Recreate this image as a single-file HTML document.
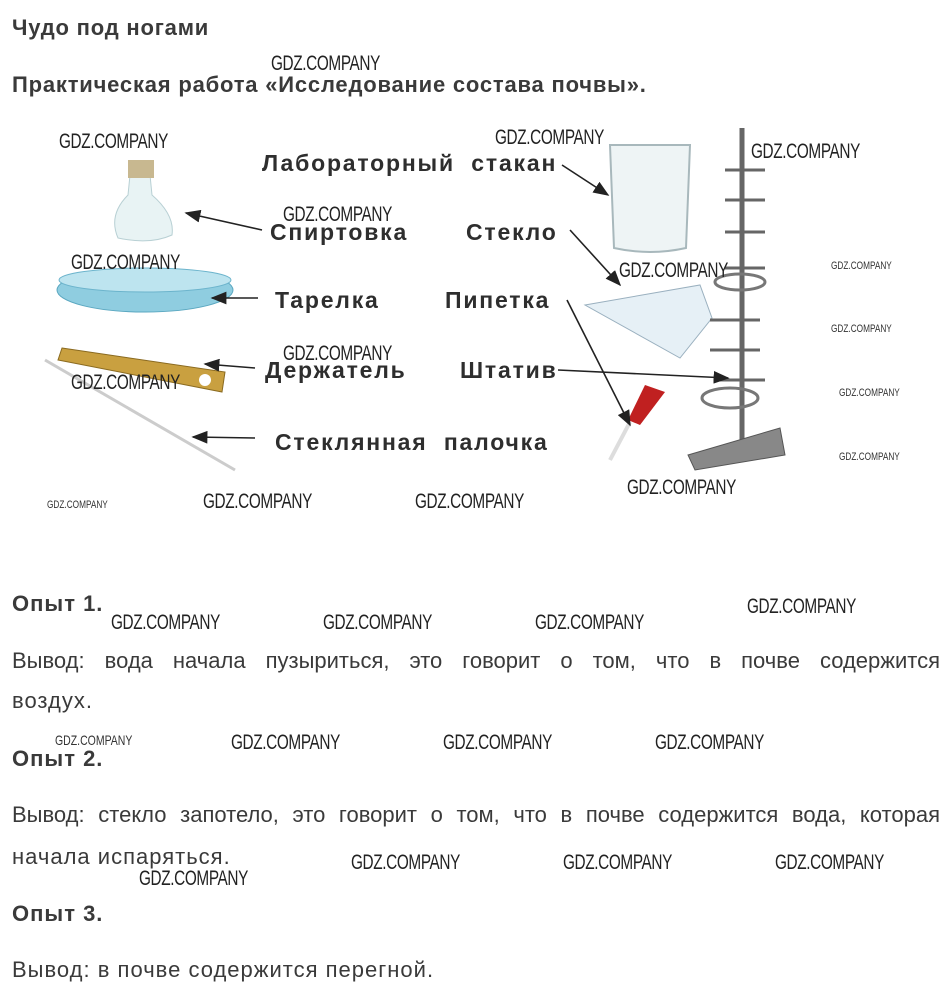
<!DOCTYPE html>
<html><head><meta charset="utf-8">
<style>
body{margin:0;width:949px;height:1000px;background:#fff;position:relative;overflow:hidden;font-family:"Liberation Sans",sans-serif;color:#333}
.a{position:absolute;white-space:nowrap}
.b{font-weight:bold}
.t{font-size:22px;color:#3a3a3a;letter-spacing:1px}
.lab{font-size:23px;font-weight:bold;color:#2e2e2e;letter-spacing:1.8px}
.w{position:absolute;font-family:"Liberation Sans Narrow","Liberation Sans",sans-serif;font-size:21px;color:#222;transform:scaleX(0.73);transform-origin:left top;white-space:nowrap;letter-spacing:-0.5px}
.ws{position:absolute;font-family:"Liberation Sans Narrow","Liberation Sans",sans-serif;font-size:11px;color:#333;transform:scaleX(0.75);transform-origin:left top;white-space:nowrap}
.j{position:absolute;left:12px;width:928px;font-size:22px;color:#3a3a3a;text-align:justify;text-align-last:justify;white-space:nowrap}
</style></head><body>
<div class="a b t" style="left:12px;top:15px;letter-spacing:0.8px">Чудо под ногами</div>
<div class="a b t" style="left:12px;top:72px;letter-spacing:0.8px">Практическая работа «Исследование состава почвы».</div>

<svg class="a" style="left:0;top:110px" width="949" height="390" viewBox="0 110 949 390">
<defs><marker id="ar" markerWidth="10" markerHeight="8" refX="9" refY="4" orient="auto"><path d="M0,0L10,4L0,8z" fill="#222"/></marker></defs>
<path d="M130,175 L150,175 L152,195 Q175,215 172,235 Q150,245 118,238 Q108,215 128,195z" fill="#e8f3f4" stroke="#b8d0d4"/>
<rect x="128" y="160" width="26" height="18" fill="#c8b890"/>
<ellipse cx="145" cy="290" rx="88" ry="22" fill="#8fcde0" stroke="#5aa7c0"/>
<ellipse cx="145" cy="280" rx="86" ry="12" fill="#bde4ef" stroke="#6cb4cc"/>
<path d="M62,348 L225,372 L222,392 L58,360z" fill="#c9a040" stroke="#8a6a20"/>
<circle cx="205" cy="380" r="6" fill="#fff"/>
<line x1="45" y1="360" x2="235" y2="470" stroke="#ccc" stroke-width="3"/>
<path d="M610,145 L690,145 L686,248 Q650,256 614,248z" fill="#eef4f5" stroke="#a8b8bc" stroke-width="2"/>
<path d="M585,305 L700,285 L712,318 L680,358z" fill="#e6f0f6" stroke="#9ab0bf"/>
<path d="M645,385 L665,392 L640,425 L628,420z" fill="#c02020"/>
<line x1="630" y1="422" x2="610" y2="460" stroke="#ddd" stroke-width="4"/>
<line x1="742" y1="128" x2="742" y2="440" stroke="#666" stroke-width="5"/>
<path d="M688,455 L780,428 L785,455 L695,470z" fill="#888" stroke="#555"/>
<ellipse cx="730" cy="398" rx="28" ry="10" fill="none" stroke="#777" stroke-width="3"/>
<ellipse cx="740" cy="282" rx="25" ry="8" fill="none" stroke="#777" stroke-width="3"/>
<g stroke="#666" stroke-width="3" fill="none">
<path d="M725,170h40"/><path d="M725,200h40"/><path d="M725,232h40"/><path d="M725,268h40"/><path d="M710,320h50"/><path d="M710,350h50"/><path d="M720,380h45"/>
</g>
<g stroke="#222" stroke-width="1.6" marker-end="url(#ar)">
<line x1="262" y1="230" x2="186" y2="213"/>
<line x1="258" y1="298" x2="212" y2="298"/>
<line x1="255" y1="368" x2="205" y2="364"/>
<line x1="255" y1="438" x2="193" y2="437"/>
<line x1="562" y1="165" x2="608" y2="195"/>
<line x1="570" y1="230" x2="620" y2="285"/>
<line x1="567" y1="300" x2="630" y2="425"/>
<line x1="558" y1="370" x2="728" y2="378"/>
</g>
</svg>

<div class="a lab" style="left:262px;top:150px">Лабораторный&nbsp; стакан</div>
<div class="a lab" style="left:270px;top:219px">Спиртовка</div>
<div class="a lab" style="left:466px;top:219px">Стекло</div>
<div class="a lab" style="left:275px;top:287px">Тарелка</div>
<div class="a lab" style="left:445px;top:287px">Пипетка</div>
<div class="a lab" style="left:265px;top:357px">Держатель</div>
<div class="a lab" style="left:460px;top:357px">Штатив</div>
<div class="a lab" style="left:275px;top:429px">Стеклянная&nbsp; палочка</div>

<div class="a b t" style="left:12px;top:591px">Опыт 1.</div>
<div class="j" style="top:648px">Вывод: вода начала пузыриться, это говорит о том, что в почве содержится</div>
<div class="a t" style="left:12px;top:688px">воздух.</div>
<div class="a b t" style="left:12px;top:746px">Опыт 2.</div>
<div class="j" style="top:802px">Вывод: стекло запотело, это говорит о том, что в почве содержится вода, которая</div>
<div class="a t" style="left:12px;top:844px">начала испаряться.</div>
<div class="a b t" style="left:12px;top:901px">Опыт 3.</div>
<div class="a t" style="left:12px;top:957px">Вывод: в почве содержится перегной.</div>

<div class="w" style="left:271px;top:52px">GDZ.COMPANY</div>
<div class="w" style="left:59px;top:130px">GDZ.COMPANY</div>
<div class="w" style="left:495px;top:126px">GDZ.COMPANY</div>
<div class="w" style="left:751px;top:140px">GDZ.COMPANY</div>
<div class="w" style="left:283px;top:203px">GDZ.COMPANY</div>
<div class="w" style="left:71px;top:251px">GDZ.COMPANY</div>
<div class="w" style="left:619px;top:259px">GDZ.COMPANY</div>
<div class="ws" style="left:831px;top:260px">GDZ.COMPANY</div>
<div class="ws" style="left:831px;top:323px">GDZ.COMPANY</div>
<div class="w" style="left:283px;top:342px">GDZ.COMPANY</div>
<div class="w" style="left:71px;top:371px">GDZ.COMPANY</div>
<div class="ws" style="left:839px;top:387px">GDZ.COMPANY</div>
<div class="ws" style="left:839px;top:451px">GDZ.COMPANY</div>
<div class="w" style="left:627px;top:476px">GDZ.COMPANY</div>
<div class="ws" style="left:47px;top:499px">GDZ.COMPANY</div>
<div class="w" style="left:203px;top:490px">GDZ.COMPANY</div>
<div class="w" style="left:415px;top:490px">GDZ.COMPANY</div>
<div class="w" style="left:747px;top:595px">GDZ.COMPANY</div>
<div class="w" style="left:111px;top:611px">GDZ.COMPANY</div>
<div class="w" style="left:323px;top:611px">GDZ.COMPANY</div>
<div class="w" style="left:535px;top:611px">GDZ.COMPANY</div>
<div class="ws" style="left:55px;top:732px;font-size:14px">GDZ.COMPANY</div>
<div class="w" style="left:231px;top:731px">GDZ.COMPANY</div>
<div class="w" style="left:443px;top:731px">GDZ.COMPANY</div>
<div class="w" style="left:655px;top:731px">GDZ.COMPANY</div>
<div class="w" style="left:351px;top:851px">GDZ.COMPANY</div>
<div class="w" style="left:563px;top:851px">GDZ.COMPANY</div>
<div class="w" style="left:775px;top:851px">GDZ.COMPANY</div>
<div class="w" style="left:139px;top:867px">GDZ.COMPANY</div>
</body></html>
